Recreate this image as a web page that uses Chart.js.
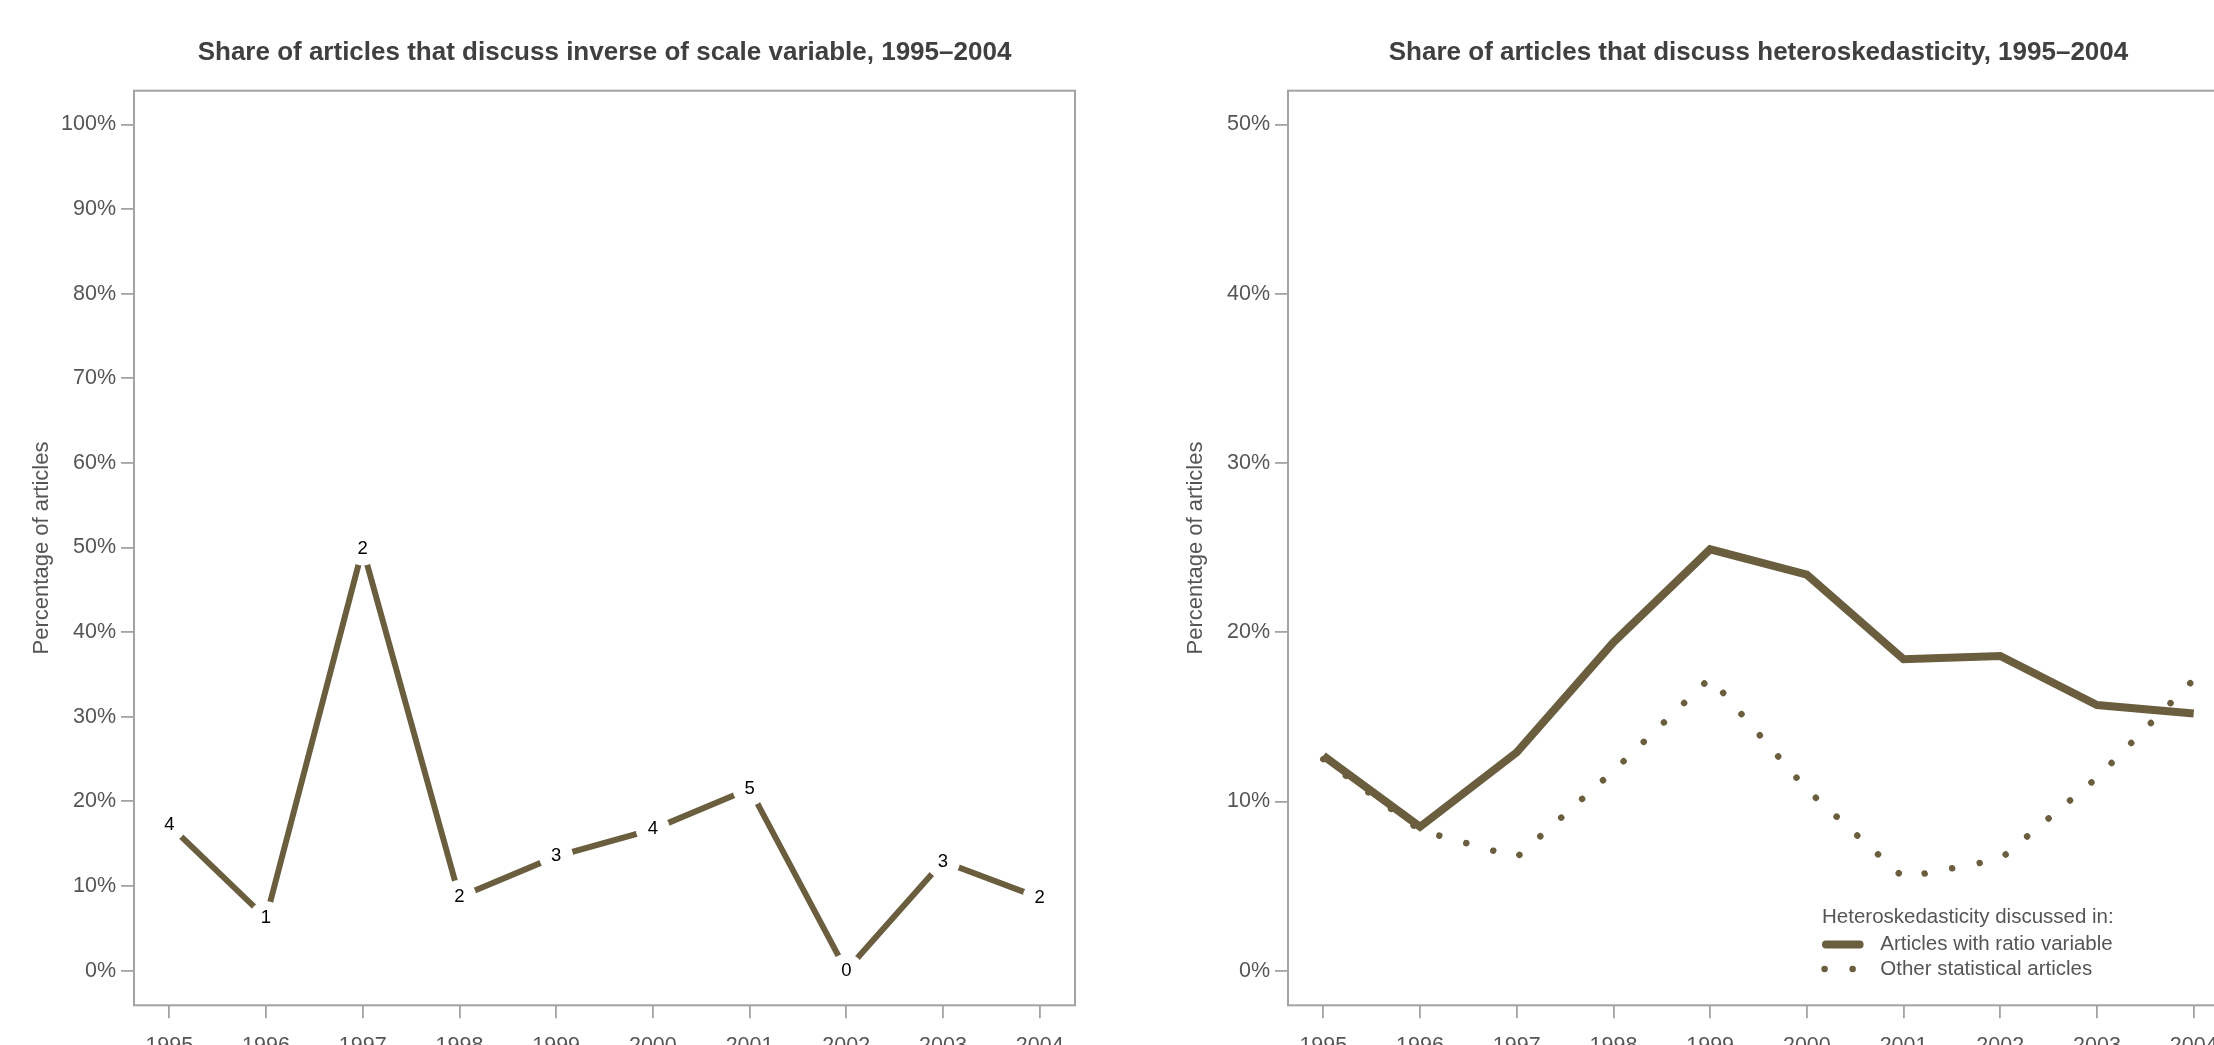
<!DOCTYPE html>
<html>
<head>
<meta charset="utf-8">
<title>Share of articles, 1995–2004</title>
<script src="https://cdn.jsdelivr.net/npm/chart.js@4.4.1/dist/chart.umd.min.js"></script>
<style>
  html, body { margin: 0; padding: 0; background: #fff; overflow: hidden; }
  #wrap { position: relative; width: 2214px; height: 1045px; overflow: hidden; }
  .panel { position: absolute; top: 0; width: 1150px; height: 1045px; }
</style>
</head>
<body>
<div id="wrap">
  <div class="panel" style="left:0px"><canvas id="chartScale" width="1150" height="1045"></canvas></div>
  <div class="panel" style="left:1154px"><canvas id="chartHetero" width="1150" height="1045"></canvas></div>
</div>
<script>
// data (percent of articles)
const years = [1995, 1996, 1997, 1998, 1999, 2000, 2001, 2002, 2003, 2004];
const scaleShare  = [17.2, 6.2, 49.9, 8.7, 13.5, 16.7, 21.5, 0.0, 12.9, 8.6];
const scaleCounts = [4, 1, 2, 2, 3, 4, 5, 0, 3, 2];
const ratioShare  = [12.7, 8.5, 12.9, 19.4, 24.9, 23.4, 18.4, 18.6, 15.7, 15.2];
const otherShare  = [12.5, 8.3, 6.7, 11.8, 17.3, 10.7, 5.5, 6.6, 11.4, 17.2];
const scaleTicks  = [0, 10, 20, 30, 40, 50, 60, 70, 80, 90, 100];
const heteroTicks = [0, 10, 20, 30, 40, 50];

const titleScale  = 'Share of articles that discuss inverse of scale variable, 1995–2004';
const titleHetero = 'Share of articles that discuss heteroskedasticity, 1995–2004';
const yTitle      = 'Percentage of articles';
const legendTitle = 'Heteroskedasticity discussed in:';
const ratioLabel  = 'Articles with ratio variable';
const otherLabel  = 'Other statistical articles';

const FONT = "'Liberation Sans', Arial, Helvetica, sans-serif";
const olive = '#6b5e3e';
const axisGrey = '#a3a3a3';
const textGrey = '#555555';

function pts(vals){
  return years.map((yr, i) => ({x: yr, y: vals[i]}));
}

function xAxis(){
  return {
    type: 'linear', min: 1994.635, max: 2004.365, bounds: 'data',
    border: {display: false},
    grid: {drawOnChartArea: false, drawTicks: true, tickLength: 13, color: axisGrey, lineWidth: 1.8},
    ticks: {color: textGrey, font: {size: 21.5, family: FONT}, padding: 15,
            autoSkip: false, maxRotation: 0, callback: v => String(v)},
    afterBuildTicks: s => { s.ticks = years.map(v => ({value: v})); },
    afterFit: s => { s.height = 39.7; }
  };
}

function yAxis(min, max, tickVals){
  return {
    type: 'linear', min, max, bounds: 'data',
    border: {display: false},
    grid: {drawOnChartArea: false, drawTicks: true, tickLength: 13, color: axisGrey, lineWidth: 1.8},
    ticks: {color: textGrey, font: {size: 21.5, family: FONT}, padding: 5, callback: v => v + '%'},
    title: {display: true, text: yTitle, color: textGrey, font: {size: 22, family: FONT},
            padding: {top: 29, bottom: 0}},
    afterBuildTicks: s => { s.ticks = tickVals.map(v => ({value: v})); },
    afterFit: s => { s.width = 134; }
  };
}

function titleOpts(text){
  return {
    display: true, text, fullSize: false, color: '#404040',
    font: {size: 26, weight: 'bold', family: FONT},
    padding: {top: 37.7, bottom: 21.8}
  };
}

// plot box round the chart area
const framePlugin = {
  id: 'frame',
  beforeDatasetsDraw(chart){
    const {ctx, chartArea: a} = chart;
    ctx.save();
    ctx.strokeStyle = axisGrey;
    ctx.lineWidth = 2;
    ctx.strokeRect(a.left, a.top, a.right - a.left, a.bottom - a.top);
    ctx.restore();
  }
};

// article counts written on each point
const countPlugin = {
  id: 'counts',
  afterDatasetsDraw(chart){
    const ctx = chart.ctx;
    const meta = chart.getDatasetMeta(0);
    ctx.save();
    ctx.fillStyle = '#000';
    ctx.font = `18.5px ${FONT}`;
    ctx.textAlign = 'center';
    ctx.textBaseline = 'middle';
    meta.data.forEach((p, i) => ctx.fillText(String(scaleCounts[i]), p.x, p.y));
    ctx.restore();
  }
};

// legend inside the plot, lower right
const boxLegend = {
  id: 'boxLegend',
  afterDraw(chart){
    const {ctx, chartArea: a} = chart;
    const x0 = a.left + 534;
    const yTitleRow = a.bottom - 88;
    const rowGap = 24.3;
    ctx.save();
    ctx.font = `20.5px ${FONT}`;
    ctx.fillStyle = textGrey;
    ctx.textAlign = 'left';
    ctx.textBaseline = 'middle';
    ctx.fillText(legendTitle, x0, yTitleRow);
    chart.data.datasets.forEach((ds, i) => {
      const y = yTitleRow + rowGap * (i + 1) + 3;
      ctx.save();
      ctx.strokeStyle = ds.borderColor;
      ctx.lineCap = 'round';
      if (ds.borderDash){
        ctx.lineWidth = ds.borderWidth;
        ctx.setLineDash(ds.borderDash);
        ctx.beginPath();
        ctx.moveTo(x0 + 2.6, y);
        ctx.lineTo(x0 + 32, y);
        ctx.stroke();
      } else {
        ctx.lineWidth = 8;
        ctx.beginPath();
        ctx.moveTo(x0 + 4, y);
        ctx.lineTo(x0 + 37.6, y);
        ctx.stroke();
      }
      ctx.restore();
      ctx.fillText(ds.label, x0 + 58.3, y);
    });
    ctx.restore();
  }
};

new Chart(document.getElementById('chartScale'), {
  type: 'line',
  data: {
    datasets: [{
      label: 'Inverse of scale variable',
      data: pts(scaleShare),
      borderColor: olive,
      borderWidth: 6,
      pointRadius: 17,
      pointHoverRadius: 17,
      pointBackgroundColor: '#ffffff',
      pointBorderWidth: 0,
      tension: 0
    }]
  },
  options: {
    responsive: false,
    animation: false,
    devicePixelRatio: 1,
    layout: {padding: {left: 0, right: 75, top: 0, bottom: 0}},
    plugins: {legend: {display: false}, tooltip: {enabled: false}, title: titleOpts(titleScale)},
    scales: {x: xAxis(), y: yAxis(-4.1, 104.0, scaleTicks)}
  },
  plugins: [framePlugin, countPlugin]
});

new Chart(document.getElementById('chartHetero'), {
  type: 'line',
  data: {
    datasets: [{
      label: ratioLabel,
      data: pts(ratioShare),
      borderColor: olive,
      borderWidth: 8,
      pointRadius: 0,
      tension: 0
    }, {
      label: otherLabel,
      data: pts(otherShare),
      borderColor: olive,
      borderWidth: 6.5,
      borderDash: [0.01, 28],
      borderCapStyle: 'round',
      pointRadius: 0,
      tension: 0
    }]
  },
  options: {
    responsive: false,
    animation: false,
    devicePixelRatio: 1,
    layout: {padding: {left: 0, right: 75, top: 0, bottom: 0}},
    plugins: {legend: {display: false}, tooltip: {enabled: false}, title: titleOpts(titleHetero)},
    scales: {x: xAxis(), y: yAxis(-2.045, 52.0, heteroTicks)}
  },
  plugins: [framePlugin, boxLegend]
});
</script>
</body>
</html>
